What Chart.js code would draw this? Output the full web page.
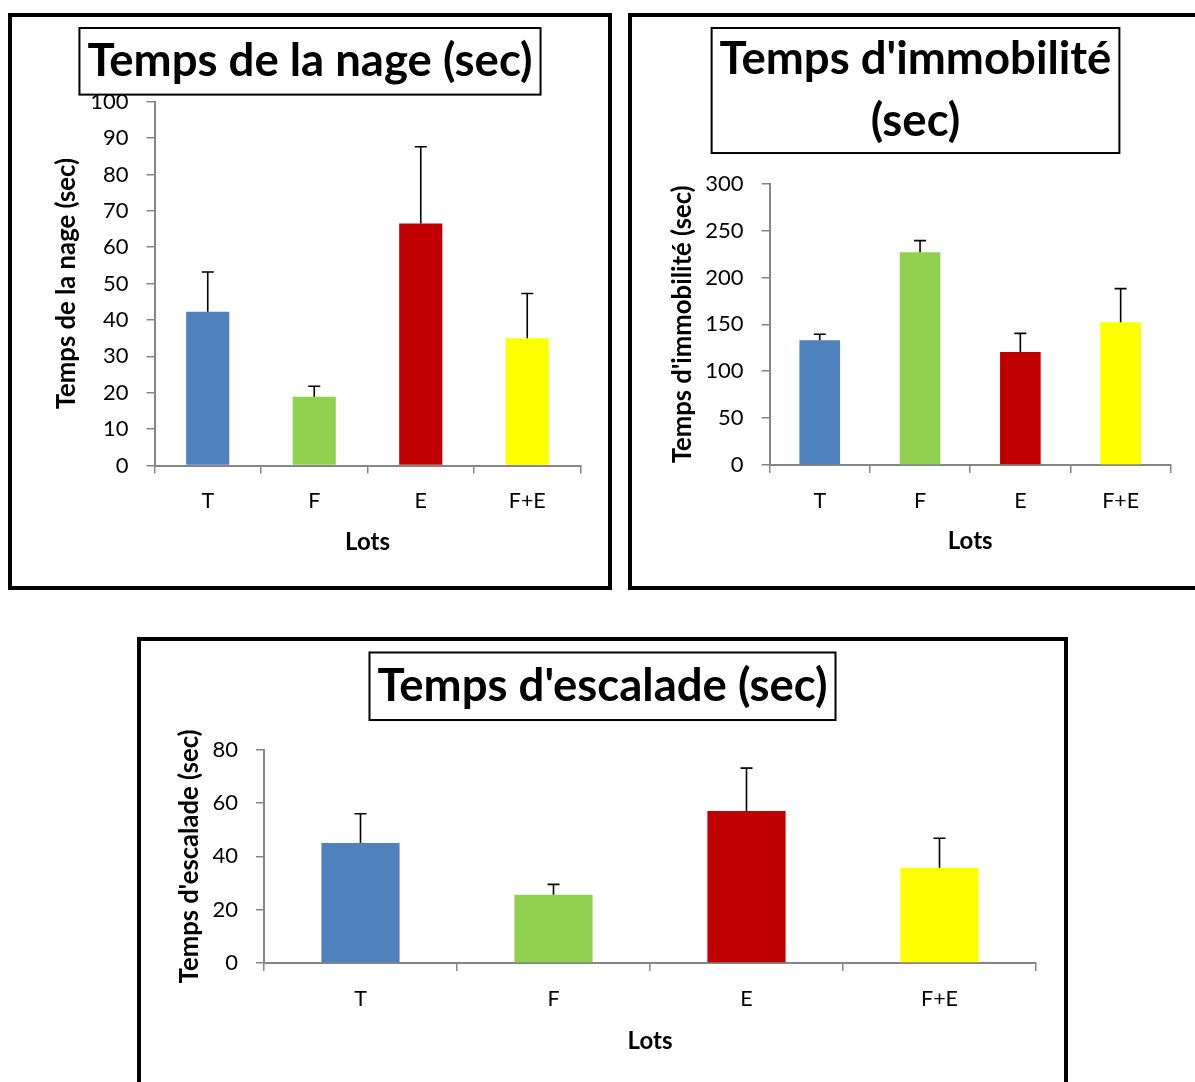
<!DOCTYPE html>
<html lang="fr">
<head>
<meta charset="utf-8">
<title>Temps de la nage, d'immobilité et d'escalade</title>
<script src="https://cdn.jsdelivr.net/npm/chart.js@4.4.1/dist/chart.umd.min.js"></script>
<style>
  html, body { margin: 0; padding: 0; background: #fff; }
  body { width: 1195px; height: 1082px; overflow: hidden; position: relative; }
  .frame { position: absolute; border: 4px solid #000; }
  .frame canvas { display: block; }
</style>
</head>
<body>
<div class="frame" style="left:8px; top:13px;"><canvas id="nage" width="596" height="569"></canvas></div>
<div class="frame" style="left:628px; top:13px;"><canvas id="immobilite" width="567" height="569"></canvas></div>
<div class="frame" style="left:137px; top:637px;"><canvas id="escalade" width="923" height="447"></canvas></div>

<script>
// groups and bar colours (same for the three charts)
const lots = ['T', 'F', 'E', 'F+E'];
const lotColors = ['#4F81BD', '#92D050', '#C00000', '#FFFF00'];

// swimming time (sec): means and upper error
const nageMean = [42.3, 18.9, 66.5, 35.0];
const nageErr = [10.9, 2.9, 21.1, 12.3];
const nageTicks = [0, 10, 20, 30, 40, 50, 60, 70, 80, 90, 100];

// immobility time (sec)
const immobMean = [133, 227, 120.4, 152.3];
const immobErr = [6.5, 12.3, 20, 35.8];
const immobTicks = [0, 50, 100, 150, 200, 250, 300];

// climbing time (sec)
const escaladeMean = [45, 25.6, 57, 35.7];
const escaladeErr = [11, 3.9, 16.1, 11.1];
const escaladeTicks = [0, 20, 40, 60, 80];

const axisGray = '#868686';
const FONT = 'Lato';

// vertical error line + cap on top of each bar
const errorBars = {
    id: 'errorBars',
    afterDatasetsDraw(chart, args, opts) {
        const { ctx } = chart;
        const y = chart.scales.y;
        const values = chart.data.datasets[0].data;
        const meta = chart.getDatasetMeta(0);
        ctx.save();
        ctx.strokeStyle = '#000';
        ctx.lineWidth = 1.6;
        meta.data.forEach((bar, i) => {
            const top = y.getPixelForValue(values[i] + opts.errors[i]);
            ctx.beginPath();
            ctx.moveTo(bar.x, bar.y);
            ctx.lineTo(bar.x, top);
            ctx.moveTo(bar.x - 6, top);
            ctx.lineTo(bar.x + 6, top);
            ctx.stroke();
        });
        ctx.restore();
    }
};

// box drawn around the chart title
const titleFrame = {
    id: 'titleFrame',
    afterDraw(chart) {
        const block = chart.titleBlock;
        if (!block) return;
        const font = Chart.helpers.toFont(block.options.font);
        const lines = [].concat(block.options.text);
        const { ctx } = chart;
        ctx.save();
        ctx.font = font.string;
        const w = Math.max(...lines.map(l => ctx.measureText(l).width));
        const cx = block.left + block.width / 2;
        const top = block.top + block._padding.top;
        ctx.strokeStyle = '#000';
        ctx.lineWidth = 2;
        ctx.strokeRect(cx - w / 2 - 8, top, w + 16, lines.length * font.lineHeight);
        ctx.restore();
    }
};

function makeChart(id, title, yTitle, means, errors, ticks, lay) {
    return new Chart(document.getElementById(id), {
        type: 'bar',
        data: {
            labels: lots,
            datasets: [{
                data: means,
                backgroundColor: lotColors,
                borderWidth: 0,
                barPercentage: 0.405,
                categoryPercentage: 1
            }]
        },
        plugins: [errorBars, titleFrame],
        options: {
            responsive: false,
            animation: false,
            layout: {
                autoPadding: false,
                padding: { left: lay.side, right: lay.side, top: lay.top, bottom: lay.bottom }
            },
            plugins: {
                legend: { display: false },
                tooltip: { enabled: false },
                errorBars: { errors: errors },
                title: {
                    display: true,
                    text: title,
                    color: '#000',
                    font: { family: FONT, size: 45.5, weight: 'bold', lineHeight: lay.titleLH },
                    padding: { top: 0, bottom: lay.titleGap }
                }
            },
            scales: {
                x: {
                    afterFit: s => { s.height = lay.xHeight; },
                    grid: { drawOnChartArea: false, tickLength: 8, color: axisGray, lineWidth: 1.5, offset: true },
                    border: { color: axisGray, width: 2 },
                    ticks: { color: '#000', font: { family: FONT, size: 21.5 }, padding: 15 },
                    title: {
                        display: true, text: 'Lots', color: '#000',
                        font: { family: FONT, size: 24, weight: 'bold', lineHeight: 1.2 },
                        padding: { top: 0, bottom: 0 }
                    }
                },
                y: {
                    min: ticks[0],
                    max: ticks[ticks.length - 1],
                    afterFit: s => { s.width = lay.yWidth; },
                    afterBuildTicks: s => { s.ticks = ticks.map(v => ({ value: v })); },
                    grid: { drawOnChartArea: false, tickLength: 8, color: axisGray, lineWidth: 1.5 },
                    border: { color: axisGray, width: 2 },
                    ticks: { color: '#000', font: { family: FONT, size: 22 }, padding: 18 },
                    title: {
                        display: true, text: yTitle, color: '#000',
                        font: { family: FONT, size: 25.7, weight: 'bold', lineHeight: 1.2 },
                        padding: { top: lay.yTitlePad, bottom: 0 }
                    }
                }
            }
        }
    });
}

makeChart('nage', 'Temps de la nage (sec)', 'Temps de la nage (sec)', nageMean, nageErr, nageTicks,
    { side: 27.5, top: 11, bottom: 29.7, titleLH: 1.464, titleGap: 7, yWidth: 115, xHeight: 90.7, yTitlePad: 12.1 });

makeChart('immobilite', ["Temps d'immobilité", '(sec)'], "Temps d'immobilité (sec)", immobMean, immobErr, immobTicks,
    { side: 28.2, top: 11, bottom: 29.9, titleLH: 1.374, titleGap: 30.7, yWidth: 109.4, xHeight: 91.1, yTitlePad: 6.7 });

makeChart('escalade', "Temps d'escalade (sec)", "Temps d'escalade (sec)", escaladeMean, escaladeErr, escaladeTicks,
    { side: 28, top: 11.5, bottom: 32.8, titleLH: 1.484, titleGap: 29.7, yWidth: 95, xHeight: 92.2, yTitlePad: 5.6 });
</script>
</body>
</html>
